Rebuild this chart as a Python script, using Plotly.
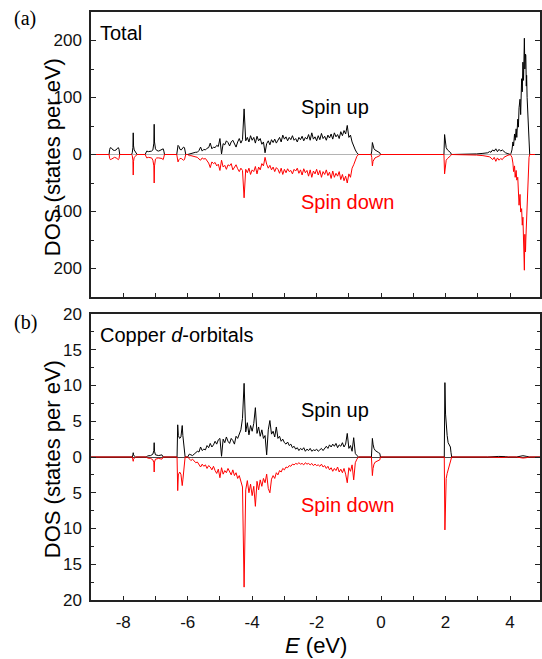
import numpy as np
import plotly.graph_objects as go

# ---- data: rows are (E in eV, spin up, spin down magnitude) ----
# (a) Total DOS
tot_low = [
    (-9.00, 0, 0),
    (-8.44, 0, 0), (-8.42, 9, 7), (-8.40, 12, 9), (-8.36, 11, 8), (-8.32, 8, 6), (-8.27, 7, 5),
    (-8.22, 8, 6), (-8.18, 11, 8), (-8.15, 12, 9), (-8.13, 9, 7), (-8.11, 0, 0),
    (-7.74, 0, 0), (-7.72, 3, 2), (-7.70, 12, 10), (-7.69, 38, 36), (-7.68, 15, 12), (-7.66, 8, 5),
    (-7.63, 5, 3), (-7.60, 3, 1), (-7.57, 0, 0),
    (-7.32, 0, 0), (-7.30, 4, 4), (-7.27, 6, 6), (-7.22, 5, 5), (-7.17, 5, 5), (-7.12, 6, 6),
    (-7.08, 8, 10), (-7.05, 20, 20), (-7.04, 53, 50), (-7.03, 22, 20), (-7.00, 10, 8), (-6.96, 7, 6),
    (-6.90, 6, 6), (-6.85, 7, 6), (-6.80, 8, 7), (-6.76, 10, 9), (-6.74, 6, 5), (-6.72, 0, 0),
    (-6.34, 0, 0), (-6.32, 12, 12), (-6.30, 16, 13), (-6.27, 14, 9), (-6.24, 9, 7), (-6.20, 8, 7),
    (-6.16, 10, 8), (-6.13, 13, 10), (-6.10, 12, 9), (-6.08, 6, 5), (-6.06, 0, 0),
]
tot_band = [
    (-6.00, 0, 0), (-5.95, 1, 2), (-5.90, 2, 2), (-5.85, 2, 3), (-5.80, 3, 3), (-5.75, 4, 4),
    (-5.70, 4, 5), (-5.65, 7, 8), (-5.60, 13, 10), (-5.55, 6, 6), (-5.50, 9, 8), (-5.45, 8, 7),
    (-5.40, 11, 12), (-5.35, 12, 15), (-5.30, 20, 23), (-5.25, 10, 13), (-5.20, 13, 16), (-5.15, 12, 14),
    (-5.10, 16, 20), (-5.05, 14, 17), (-5.00, 28, 28), (-4.95, 1, 10), (-4.90, 19, 22), (-4.85, 17, 19),
    (-4.80, 24, 26), (-4.75, 21, 18), (-4.70, 15, 20), (-4.65, 22, 16), (-4.60, 25, 27), (-4.55, 20, 22),
    (-4.50, 13, 18), (-4.45, 22, 25), (-4.40, 28, 30), (-4.35, 20, 24), (-4.30, 26, 28), (-4.25, 80, 76),
    (-4.20, 24, 26), (-4.15, 30, 32), (-4.10, 22, 24), (-4.05, 33, 35), (-4.00, 25, 27), (-3.95, 30, 30),
    (-3.90, 20, 21), (-3.85, 32, 34), (-3.80, 24, 22), (-3.75, 28, 27), (-3.70, 18, 16), (-3.65, 22, 20),
    (-3.60, 3, 5), (-3.55, 19, 17), (-3.50, 24, 24), (-3.45, 17, 19), (-3.40, 26, 27), (-3.35, 21, 22),
    (-3.30, 27, 30), (-3.25, 20, 23), (-3.20, 25, 26), (-3.15, 30, 33), (-3.10, 22, 24), (-3.05, 34, 35),
    (-3.00, 27, 26), (-2.95, 31, 32), (-2.90, 24, 25), (-2.85, 30, 30), (-2.80, 26, 28), (-2.75, 33, 34),
    (-2.70, 25, 26), (-2.65, 28, 29), (-2.60, 22, 24), (-2.55, 30, 33), (-2.50, 26, 27), (-2.45, 32, 36),
    (-2.40, 24, 25), (-2.35, 30, 32), (-2.30, 27, 28), (-2.25, 35, 38), (-2.20, 25, 27), (-2.15, 38, 40),
    (-2.10, 27, 29), (-2.05, 31, 34), (-2.00, 24, 26), (-1.95, 33, 36), (-1.90, 26, 28), (-1.85, 37, 40),
    (-1.80, 28, 30), (-1.75, 32, 35), (-1.70, 25, 27), (-1.65, 34, 37), (-1.60, 29, 31), (-1.55, 36, 42),
    (-1.50, 27, 29), (-1.45, 38, 40), (-1.40, 31, 33), (-1.35, 35, 38), (-1.30, 28, 30), (-1.25, 40, 44),
    (-1.20, 33, 35), (-1.15, 42, 46), (-1.10, 36, 38), (-1.05, 51, 50), (-1.00, 30, 34), (-0.95, 34, 40),
    (-0.90, 22, 24), (-0.85, 14, 18), (-0.80, 8, 10), (-0.75, 3, 3), (-0.70, 0, 0),
]
tot_high = [
    (-0.31, 0, 0), (-0.29, 6, 5), (-0.27, 21, 20), (-0.25, 15, 12), (-0.22, 10, 8), (-0.19, 8, 6),
    (-0.15, 7, 5), (-0.11, 6, 4), (-0.07, 5, 3), (-0.04, 3, 2), (-0.02, 0, 0),
    (1.95, 0, 0), (1.97, 35, 34), (1.99, 20, 18), (2.02, 12, 10), (2.06, 8, 7), (2.10, 6, 5),
    (2.14, 5, 4), (2.16, 3, 2), (2.18, 0, 0),
    (2.56, 0, 0), (2.76, 0.5, 0.5), (2.96, 1, 1), (3.16, 2, 2), (3.31, 3, 3), (3.36, 5, 4),
    (3.41, 4, 6), (3.46, 8, 9), (3.51, 6, 5), (3.56, 10, 12), (3.61, 5, 6), (3.66, 9, 10),
    (3.71, 6, 7), (3.76, 8, 9), (3.81, 5, 5), (3.86, 3, 3), (3.91, 2, 2), (3.96, 1, 1), (4.01, 0, 0),
    (4.03, 2, 2), (4.06, 8, 5), (4.09, 22, 15), (4.11, 15, 30), (4.14, 36, 20), (4.16, 25, 40),
    (4.19, 45, 28), (4.21, 30, 45), (4.24, 62, 40), (4.26, 48, 60), (4.28, 82, 89), (4.31, 97, 70),
    (4.33, 70, 101), (4.36, 133, 95), (4.38, 110, 124), (4.40, 162, 110), (4.42, 130, 159),
    (4.445, 204, 203), (4.46, 150, 140), (4.48, 176, 171), (4.49, 174, 150), (4.505, 120, 130),
    (4.515, 139, 110), (4.53, 100, 90), (4.547, 74, 54), (4.57, 30, 20), (4.59, 5, 5), (4.61, 0, 0),
    (5.00, 0, 0),
]

# (b) Copper d-orbitals
cu_low = [
    (-9.00, 0, 0),
    (-8.42, 0, 0), (-8.38, 0.1, 0.1), (-8.30, 0.1, 0.05), (-8.20, 0.1, 0.1), (-8.15, 0, 0),
    (-7.72, 0, 0), (-7.70, 0.3, 0.4), (-7.69, 0.6, 0.6), (-7.68, 0.3, 0.3), (-7.65, 0.1, 0.1), (-7.62, 0, 0),
    (-7.28, 0, 0), (-7.25, 0.15, 0.15), (-7.15, 0.2, 0.2), (-7.08, 0.4, 0.4), (-7.05, 0.9, 0.8),
    (-7.04, 2.0, 2.1), (-7.03, 0.8, 0.7), (-7.00, 0.3, 0.3), (-6.90, 0.2, 0.2), (-6.80, 0.3, 0.3),
    (-6.78, 0.1, 0.1), (-6.76, 0, 0),
    (-6.33, 0, 0), (-6.31, 4.5, 4.7), (-6.29, 3.0, 2.5), (-6.25, 2.6, 2.1), (-6.21, 2.8, 2.4),
    (-6.17, 4.4, 4.0), (-6.15, 3.0, 3.2), (-6.12, 1.5, 1.5), (-6.10, 0.3, 0.3), (-6.08, 0, 0),
]
cu_band = [
    (-6.00, 0, 0), (-5.95, 0.4, 0.3), (-5.90, 0.3, 0.5), (-5.85, 0.2, 0.3), (-5.80, 0.4, 0.6),
    (-5.75, 0.6, 0.8), (-5.70, 0.8, 0.7), (-5.65, 0.7, 1.1), (-5.60, 1.4, 1.4), (-5.55, 0.9, 1.0),
    (-5.50, 1.1, 1.3), (-5.45, 1.0, 1.1), (-5.40, 1.6, 1.6), (-5.35, 1.3, 1.2), (-5.30, 1.9, 1.4),
    (-5.25, 1.4, 1.8), (-5.20, 1.7, 1.3), (-5.15, 2.2, 1.9), (-5.10, 1.8, 2.3), (-5.05, 2.4, 1.7),
    (-5.00, 2.6, 2.9), (-4.95, 0.1, 1.5), (-4.90, 2.5, 2.4), (-4.85, 2.0, 1.9), (-4.80, 2.8, 2.2),
    (-4.75, 2.2, 1.6), (-4.70, 1.9, 2.0), (-4.65, 2.6, 2.5), (-4.60, 2.3, 1.8), (-4.55, 1.8, 2.6),
    (-4.50, 2.9, 2.2), (-4.45, 2.6, 3.0), (-4.40, 3.3, 2.6), (-4.35, 3.8, 3.6), (-4.30, 5.4, 4.2),
    (-4.25, 10.3, 18.2), (-4.20, 3.5, 4.6), (-4.15, 4.8, 3.3), (-4.10, 3.1, 5.0), (-4.05, 4.4, 3.8),
    (-4.00, 3.6, 5.4), (-3.95, 4.7, 4.1), (-3.90, 6.9, 6.9), (-3.85, 3.3, 3.4), (-3.80, 4.2, 4.6),
    (-3.75, 2.9, 3.2), (-3.70, 3.8, 4.1), (-3.65, 2.6, 3.0), (-3.60, 3.0, 3.6), (-3.55, 0.3, 2.4),
    (-3.50, 3.8, 4.4), (-3.45, 5.1, 5.0), (-3.40, 3.2, 3.1), (-3.35, 3.6, 2.6), (-3.30, 2.8, 3.0),
    (-3.25, 4.2, 2.2), (-3.20, 2.6, 2.5), (-3.15, 2.9, 1.9), (-3.10, 2.2, 2.1), (-3.05, 2.5, 1.6),
    (-3.00, 2.0, 1.8), (-2.95, 1.8, 1.4), (-2.90, 2.1, 1.5), (-2.85, 1.6, 1.2), (-2.80, 1.8, 1.3),
    (-2.75, 1.3, 1.0), (-2.70, 1.5, 1.1), (-2.65, 1.1, 0.9), (-2.60, 1.3, 1.0), (-2.55, 0.9, 0.8),
    (-2.50, 1.2, 1.0), (-2.45, 1.0, 0.9), (-2.40, 1.3, 1.1), (-2.35, 0.8, 0.8), (-2.30, 1.1, 1.0),
    (-2.25, 0.9, 0.9), (-2.20, 1.2, 1.1), (-2.15, 0.8, 0.9), (-2.10, 1.0, 1.2), (-2.05, 0.9, 1.0),
    (-2.00, 1.1, 1.2), (-1.95, 0.8, 1.1), (-1.90, 1.0, 1.3), (-1.85, 1.2, 1.0), (-1.80, 0.9, 1.4),
    (-1.75, 1.3, 1.2), (-1.70, 1.5, 1.6), (-1.65, 1.2, 1.3), (-1.60, 1.7, 1.8), (-1.55, 1.4, 1.5),
    (-1.50, 1.8, 2.0), (-1.45, 1.5, 1.6), (-1.40, 1.9, 1.9), (-1.35, 1.3, 1.4), (-1.30, 1.7, 2.1),
    (-1.25, 1.5, 1.7), (-1.20, 2.0, 2.2), (-1.15, 1.4, 1.6), (-1.10, 1.8, 2.4), (-1.05, 3.3, 3.6),
    (-1.00, 1.2, 1.5), (-0.95, 1.6, 2.0), (-0.90, 0.8, 1.1), (-0.85, 2.7, 3.2), (-0.80, 0.5, 0.8),
    (-0.75, 0.2, 0.3), (-0.70, 0, 0),
]
cu_high = [
    (-0.30, 0, 0), (-0.28, 1.5, 1.4), (-0.27, 2.6, 2.6), (-0.25, 1.8, 1.6), (-0.22, 1.2, 1.0),
    (-0.18, 0.9, 0.7), (-0.13, 0.7, 0.6), (-0.08, 0.6, 0.5), (-0.04, 0.5, 0.4), (-0.02, 0, 0),
    (1.96, 0, 0), (1.98, 10.4, 10.2), (2.00, 6.0, 4.2), (2.02, 4.2, 3.0), (2.05, 3.0, 2.3),
    (2.08, 2.0, 1.8), (2.12, 1.6, 1.2), (2.15, 1.4, 0.8), (2.17, 0.6, 0.4), (2.19, 0, 0),
    (3.30, 0, 0), (3.45, 0.05, 0.05), (3.65, 0.08, 0.06), (3.85, 0.05, 0.05), (3.95, 0, 0),
    (4.20, 0, 0), (4.30, 0.12, 0.1), (4.40, 0.18, 0.15), (4.50, 0.1, 0.1), (4.60, 0, 0),
    (5.00, 0, 0),
]

x_ticks = [-8, -7, -6, -5, -4, -3, -2, -1, 0, 1, 2, 3, 4]
x_labels = ["-8", "", "-6", "", "-4", "", "-2", "", "0", "", "2", "", "4"]
ya_ticks = [-200, -100, 0, 100, 200]
ya_labels = ["200", "100", "0", "100", "200"]
yb_ticks = [-20, -15, -10, -5, 0, 5, 10, 15, 20]
yb_labels = ["20", "15", "10", "5", "0", "5", "10", "15", "20"]

panels = [
    (tot_low + tot_band + tot_high, "x", "y"),
    (cu_low + cu_band + cu_high, "x2", "y2"),
]

fig = go.Figure()
for rows, xa, ya in panels:
    arr = np.array(rows, dtype=float)
    fig.add_trace(go.Scatter(x=arr[:, 0], y=arr[:, 1], mode="lines", xaxis=xa, yaxis=ya,
                             line=dict(color="black", width=1), showlegend=False))
    fig.add_trace(go.Scatter(x=arr[:, 0], y=-arr[:, 2], mode="lines", xaxis=xa, yaxis=ya,
                             line=dict(color="#ff0000", width=1), showlegend=False))

# plot area in pixels: x 91..542, panel a y 12..297, panel b y 314..600
L, T, B = 91, 12, 600
H = B - T
W = 542 - L

def px(x):
    return (x - L) / W

def py(y):
    return (B - y) / H

tick_font = dict(family="Liberation Sans, Arial", size=17, color="#111")
common_x = dict(range=[-9, 4.93], showline=True, linecolor="#222", linewidth=1.5, mirror=True,
                ticks="inside", ticklen=4, tickwidth=1, tickcolor="#222",
                tickmode="array", tickvals=x_ticks, showgrid=False, zeroline=False,
                tickfont=tick_font)
common_y = dict(showline=True, linecolor="#222", linewidth=1.5, mirror="ticks",
                ticks="inside", ticklen=5, tickwidth=1, tickcolor="#222", tickmode="array",
                showgrid=False, zeroline=True, zerolinewidth=1, tickfont=tick_font,
                ticklabelstandoff=4)

fig.update_layout(
    width=542, height=659,
    margin=dict(l=L, r=0, t=T, b=659 - B),
    paper_bgcolor="white", plot_bgcolor="white",
    font=dict(family="Liberation Sans, Arial", color="black"),
    xaxis=dict(common_x, domain=[0, 1], anchor="y", ticktext=[""] * len(x_ticks)),
    yaxis=dict(common_y, domain=[py(297), 1], anchor="x", range=[-250, 250],
               tickvals=ya_ticks, ticktext=ya_labels, zerolinecolor="#b4b4b4",
               minor=dict(tickvals=[-150, -50, 50, 150], ticks="inside", ticklen=3,
                          tickcolor="#222")),
    xaxis2=dict(common_x, domain=[0, 1], anchor="y2", ticktext=x_labels, ticklabelstandoff=6),
    yaxis2=dict(common_y, domain=[0, py(314)], anchor="x2", range=[-20, 20],
                tickvals=yb_ticks, ticktext=yb_labels, zerolinecolor="#444",
                minor=dict(tickvals=[-17.5, -12.5, -7.5, -2.5, 2.5, 7.5, 12.5, 17.5],
                           ticks="inside", ticklen=3, tickcolor="#222")),
)

txt = dict(family="Liberation Sans, Arial", size=20, color="black")
red = dict(txt, color="#ff0000")
serif = dict(family="Liberation Serif, Times New Roman", size=20, color="black")
ttl = dict(family="Liberation Sans, Arial", size=22, color="black")
notes = [
    dict(x=px(25), y=py(19), text="(a)", font=serif, xanchor="center"),
    dict(x=px(25), y=py(322), text="(b)", font=serif, xanchor="center"),
    dict(x=px(98), y=py(33), text="Total", font=txt, xanchor="left"),
    dict(x=px(98), y=py(335), text="Copper <i>d</i>-orbitals", font=txt, xanchor="left"),
    dict(x=px(336), y=py(107), text="Spin up", font=txt, xanchor="center"),
    dict(x=px(349), y=py(202), text="Spin down", font=red, xanchor="center"),
    dict(x=px(336), y=py(410), text="Spin up", font=txt, xanchor="center"),
    dict(x=px(349), y=py(505), text="Spin down", font=red, xanchor="center"),
    dict(x=px(52), y=py(157), text="DOS (states per eV)", font=ttl, textangle=-90, xanchor="center"),
    dict(x=px(52), y=py(459), text="DOS (states per eV)", font=ttl, textangle=-90, xanchor="center"),
    dict(x=0.5, y=py(645), text="<i>E</i> (eV)", font=ttl, xanchor="center"),
]
for n in notes:
    fig.add_annotation(xref="paper", yref="paper", showarrow=False, yanchor="middle", **n)

# the page body has a default 8px margin; drop it so the figure sits at the window origin
fig.write_html("out.html", config={"displayModeBar": False},
               post_script="document.body.style.margin='0';")
